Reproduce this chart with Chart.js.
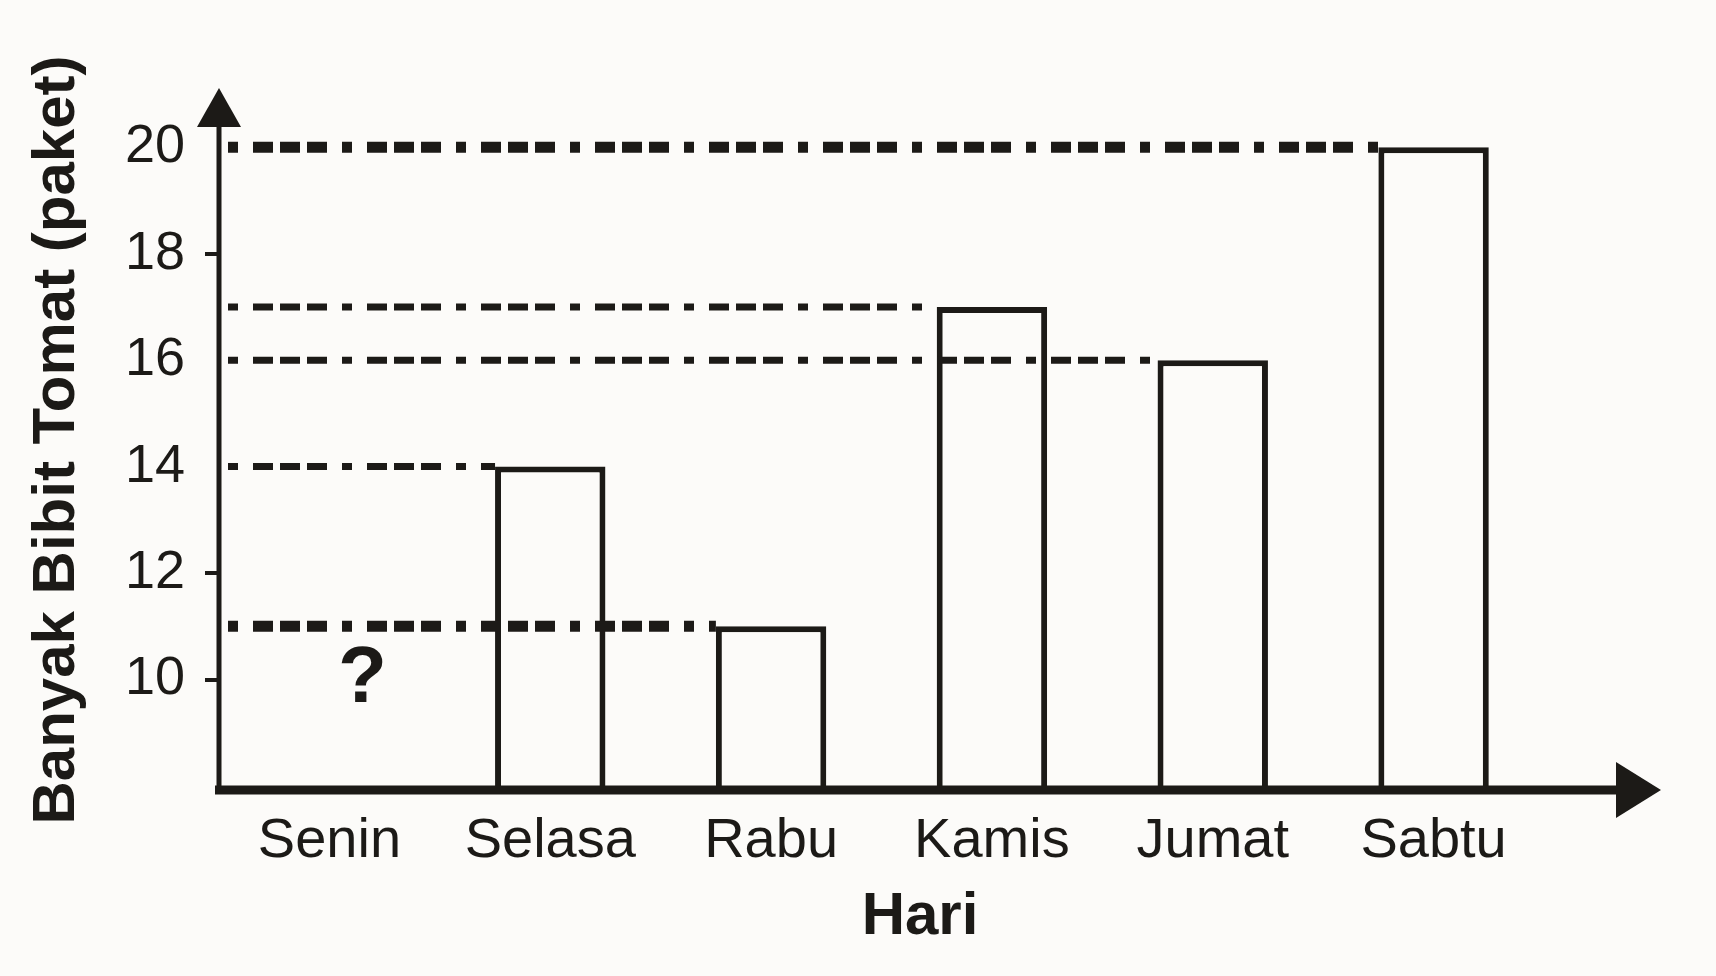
<!DOCTYPE html>
<html><head><meta charset="utf-8">
<script src="https://cdn.jsdelivr.net/npm/chart.js@4"></script>
<style>html,body{margin:0;padding:0;background:#fcfbf9;}#wrap{width:1716px;height:976px;}</style>
</head><body><div id="wrap"><canvas id="c" width="1716" height="976"></canvas></div>
<script>
const days = ['Senin', 'Selasa', 'Rabu', 'Kamis', 'Jumat', 'Sabtu'];
const seedlings = [null, 14, 11, 17, 16, 20];
const yTicks = [10, 12, 14, 16, 18, 20];
const markedTicks = [10, 12, 18];
const unknownMark = '?';
const xTitle = 'Hari';
const yTitle = 'Banyak Bibit Tomat (paket)';

const INK = '#1c1a17';
const PAPER = '#fcfbf9';
const FONT = "'Liberation Sans', Arial, Helvetica, sans-serif";

const paperPlugin = {
  id: 'paper',
  beforeDraw(chart) {
    const c = chart.ctx;
    c.save();
    c.fillStyle = PAPER;
    c.fillRect(0, 0, chart.width, chart.height);
    c.restore();
  }
};

const guidePlugin = {
  id: 'guides',
  afterDatasetsDraw(chart) {
    const c = chart.ctx;
    const y = chart.scales.y;
    const meta = chart.getDatasetMeta(0);
    const left = chart.chartArea.left;
    const known = seedlings.filter(v => v != null);
    const hi = Math.max(...known), lo = Math.min(...known);
    c.save();
    c.strokeStyle = INK;
    c.lineCap = 'butt';
    seedlings.forEach((v, i) => {
      if (v == null) return;
      const bar = meta.data[i];
      const yp = y.getPixelForValue(v);
      const x1 = bar.x - bar.width / 2;
      const thick = (v === hi || v === lo);
      c.lineWidth = thick ? 11 : 7;
      c.setLineDash([10, 15, 20, 7, 20, 7, 20, 15]);
      c.lineDashOffset = -6;
      c.beginPath();
      c.moveTo(left + 3, yp);
      c.lineTo(x1, yp);
      c.stroke();
    });
    c.restore();
  },
  afterDraw(chart) {
    const c = chart.ctx;
    const x = chart.scales.x, y = chart.scales.y;
    const left = chart.chartArea.left;
    const base = y.getPixelForValue(y.min);
    c.save();
    c.setLineDash([]);
    c.strokeStyle = INK;
    c.fillStyle = INK;
    // y axis
    c.lineWidth = 5;
    c.beginPath();
    c.moveTo(left, base + 8);
    c.lineTo(left, 120);
    c.stroke();
    c.beginPath();
    c.moveTo(left, 88);
    c.lineTo(left - 22, 127);
    c.lineTo(left + 22, 127);
    c.closePath();
    c.fill();
    // x axis
    c.lineWidth = 9;
    c.beginPath();
    c.moveTo(left - 4, base + 4);
    c.lineTo(x.right + 80, base + 4);
    c.stroke();
    c.beginPath();
    c.moveTo(x.right + 117, base + 4);
    c.lineTo(x.right + 72, base + 4 - 28);
    c.lineTo(x.right + 72, base + 4 + 28);
    c.closePath();
    c.fill();
    // unknown value mark
    c.font = 'bold 80px ' + FONT;
    c.textAlign = 'center';
    c.textBaseline = 'middle';
    const ui = seedlings.indexOf(null);
    c.fillText(unknownMark, x.getPixelForValue(ui) + 33, y.getPixelForValue(10));
    // x title
    c.font = "bold 60px 'Liberation Sans Narrow', " + FONT;
    c.fillText(xTitle, 920, 917);
    c.restore();
  }
};

new Chart(document.getElementById('c'), {
  type: 'bar',
  data: {
    labels: days,
    datasets: [{
      data: seedlings,
      backgroundColor: PAPER,
      borderColor: INK,
      borderWidth: 6,
      borderSkipped: 'bottom',
      barPercentage: 0.5,
      categoryPercentage: 1
    }]
  },
  options: {
    responsive: false,
    animation: false,
    layout: { padding: { top: 94, right: 172, bottom: 0, left: 0 } },
    plugins: { legend: { display: false }, tooltip: { enabled: false } },
    scales: {
      x: {
        type: 'category',
        grid: { display: false, drawTicks: false },
        border: { display: false },
        ticks: { color: INK, font: { family: FONT, size: 56 }, padding: 22, maxRotation: 0 },
        afterFit(s) { s.height = 190; }
      },
      y: {
        min: 8,
        max: 21,
        afterBuildTicks(s) { s.ticks = yTicks.map(v => ({ value: v })); },
        grid: {
          drawOnChartArea: false,
          drawTicks: true,
          tickLength: 14,
          lineWidth: 4,
          color: ctx => (ctx.tick && markedTicks.includes(ctx.tick.value)) ? INK : 'rgba(0,0,0,0)'
        },
        border: { display: false },
        ticks: { color: INK, font: { family: FONT, size: 54 }, padding: 20 },
        title: {
          display: true,
          text: yTitle,
          color: INK,
          font: { family: FONT, size: 60, weight: 'bold' },
          padding: { top: 21, bottom: 0 }
        },
        afterFit(s) { s.width = 219; }
      }
    }
  },
  plugins: [paperPlugin, guidePlugin]
});
</script>
</body></html>
